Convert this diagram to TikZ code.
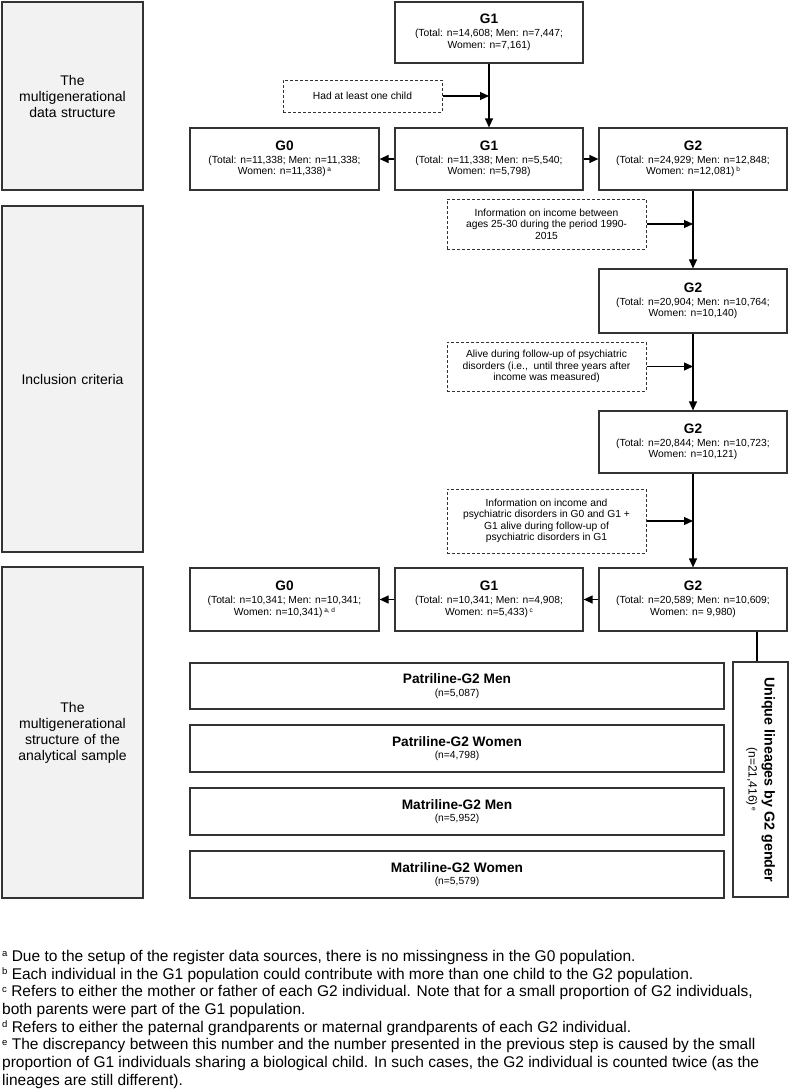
\documentclass[tikz,border=0pt]{standalone}
\usepackage{fontspec}
\setmainfont{Liberation Sans}
\usetikzlibrary{arrows.meta,calc}
\definecolor{lbl}{HTML}{F2F2F2}
\definecolor{edge}{HTML}{333333}
\newcommand\ttlf{\fontsize{13.7}{15}\selectfont\bfseries}
\newcommand\smlf{\fontsize{10.3}{11.5}\selectfont}
\newcommand\fnmk[1]{\raisebox{3.2pt}{\fontsize{6.5}{6.5}\selectfont #1}}
\newcommand\fnmf[1]{\raisebox{4.8pt}{\fontsize{9.5}{9.5}\selectfont #1}}
\tikzset{
  box/.style={draw=edge, line width=1.2pt, fill=white, align=center, inner sep=0pt, font=\smlf},
  gbox/.style={draw=edge, line width=1.2pt, fill=lbl, align=center, inner sep=0pt, text width=130pt, font=\fontsize{14}{16}\selectfont},
  dbox/.style={draw=edge, line width=1pt, dash pattern=on 3pt off 2pt, align=center, inner sep=0pt, font=\smlf},
  arr/.style={-{Triangle[length=9pt,width=8pt]}, line width=1.2pt, draw=black},
  ln/.style={line width=1.2pt, draw=black}
}
\begin{document}
\begin{tikzpicture}[x=1pt,y=-1pt]
\useasboundingbox (0,0) rectangle (790,1092);
% left labels
\node[gbox, minimum width=141pt, minimum height=188pt] (L1) at (72.5,96) {The\\multigenerational\\data structure};
\node[gbox, minimum width=141pt, minimum height=346pt] (L2) at (72.5,379) {Inclusion criteria};
\node[gbox, minimum width=141pt, minimum height=331pt] (L3) at (72.5,732.5) {The\\multigenerational\\structure of the\\analytical sample};
% top
\node[box, minimum width=188pt, minimum height=61pt] (G1a) at (489,32.5) {{\ttlf G1}\\[1.5pt](Total: n=14,608; Men: n=7,447;\\Women: n=7,161)};
\node[dbox, minimum width=159pt, minimum height=32pt] (D1) at (362.5,96) {Had at least one child};
\node[box, minimum width=189pt, minimum height=62pt] (G0b) at (284.5,159) {{\ttlf G0}\\[1.5pt](Total: n=11,338; Men: n=11,338;\\Women: n=11,338)\,\fnmk{a}};
\node[box, minimum width=188pt, minimum height=62pt] (G1b) at (489,159) {{\ttlf G1}\\[1.5pt](Total: n=11,338; Men: n=5,540;\\Women: n=5,798)};
\node[box, minimum width=188pt, minimum height=62pt] (G2a) at (693,159) {{\ttlf G2}\\[1.5pt](Total: n=24,929; Men: n=12,848;\\Women: n=12,081)\,\fnmk{b}};
% inclusion
\node[dbox, minimum width=199pt, minimum height=50pt] (DA) at (546.5,224) {Information on income between\\ages 25-30 during the period 1990-\\2015};
\node[box, minimum width=188pt, minimum height=64pt] (G2b) at (693,301) {{\ttlf G2}\\[1.5pt](Total: n=20,904; Men: n=10,764;\\Women: n=10,140)};
\node[dbox, minimum width=199pt, minimum height=49pt] (DB) at (546.5,366.5) {Alive during follow-up of psychiatric\\disorders (i.e.,\ \ until three years after\\income was measured)};
\node[box, minimum width=188pt, minimum height=62pt] (G2c) at (693,442) {{\ttlf G2}\\[1.5pt](Total: n=20,844; Men: n=10,723;\\Women: n=10,121)};
\node[dbox, minimum width=199pt, minimum height=64pt] (DC) at (546.5,521) {Information on income and\\psychiatric disorders in G0 and G1 +\\G1 alive during follow-up of\\psychiatric disorders in G1};
% analytical
\node[box, minimum width=188pt, minimum height=63pt] (G2d) at (693,599.5) {{\ttlf G2}\\[1.5pt](Total: n=20,589; Men: n=10,609;\\Women: n= 9,980)};
\node[box, minimum width=188pt, minimum height=63pt] (G1c) at (489,599.5) {{\ttlf G1}\\[1.5pt](Total: n=10,341; Men: n=4,908;\\Women: n=5,433)\,\fnmk{c}};
\node[box, minimum width=189pt, minimum height=63pt] (G0c) at (284.5,599.5) {{\ttlf G0}\\[1.5pt](Total: n=10,341; Men: n=10,341;\\Women: n=10,341)\,\fnmk{a, d}};
\node[box, minimum width=534pt, minimum height=46pt] (P1) at (457,686) {{\ttlf Patriline-G2 Men}\\[1pt](n=5,087)};
\node[box, minimum width=534pt, minimum height=47pt] (P2) at (457,748.5) {{\ttlf Patriline-G2 Women}\\[1pt](n=4,798)};
\node[box, minimum width=534pt, minimum height=47pt] (P3) at (457,811.5) {{\ttlf Matriline-G2 Men}\\[1pt](n=5,952)};
\node[box, minimum width=534pt, minimum height=47pt] (P4) at (457,874.5) {{\ttlf Matriline-G2 Women}\\[1pt](n=5,579)};
\node[box, minimum width=55pt, minimum height=235pt] (U) at (760.5,779.5) {};
\node[align=center, inner sep=0pt, rotate=-90, font=\fontsize{12}{14}\selectfont] (Ut) at (U.center) {{\fontsize{14.3}{16}\selectfont\bfseries Unique lineages by G2 gender}\\[2pt](n=21,416)\,\fnmk{e}};
% connectors
\draw[arr] (G1a.south) -- (G1b.north);
\draw[arr] (D1.east) -- (D1.east -| G1a.south);
\draw[arr] (G1b.west) -- (G0b.east);
\draw[arr] (G1b.east) -- (G2a.west);
\draw[arr] (G2a.south) -- (G2b.north);
\draw[arr] (DA.east) -- (DA.east -| G2a.south);
\draw[arr] (G2b.south) -- (G2c.north);
\draw[arr] (DB.east) -- (DB.east -| G2b.south);
\draw[arr] (G2c.south) -- (G2d.north);
\draw[arr] (DC.east) -- (DC.east -| G2c.south);
\draw[arr] (G2d.west) -- (G1c.east);
\draw[arr] (G1c.west) -- (G0c.east);
\coordinate (Utop) at ($(U.north)+(-3.5,0)$);
\draw[ln] (Utop) -- (Utop |- G2d.south);
% footnotes
\node[anchor=north west, align=left, inner sep=0pt, font=\fontsize{15.5}{17.7}\selectfont] (FN) at (2,950) {%
\fnmf{a} Due to the setup of the register data sources, there is no missingness in the G0 population.\\
\fnmf{b} Each individual in the G1 population could contribute with more than one child to the G2 population.\\
\fnmf{c} Refers to either the mother or father of each G2 individual. Note that for a small proportion of G2 individuals,\\
both parents were part of the G1 population.\\
\fnmf{d} Refers to either the paternal grandparents or maternal grandparents of each G2 individual.\\
\fnmf{e} The discrepancy between this number and the number presented in the previous step is caused by the small\\
proportion of G1 individuals sharing a biological child. In such cases, the G2 individual is counted twice (as the\\
lineages are still different).};
\end{tikzpicture}
\end{document}
